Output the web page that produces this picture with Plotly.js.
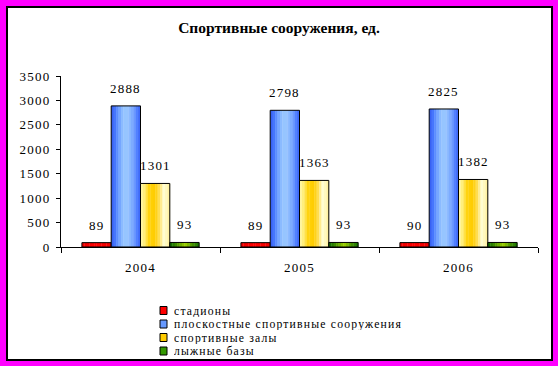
<!DOCTYPE html>
<html>
<head>
<meta charset="utf-8">
<script src="https://cdn.plot.ly/plotly-3.0.1.min.js"></script>
<style>
html,body{margin:0;padding:0;background:#FF00FF;}
#chart{width:558px;height:366px;}
.xtick text,.ytick text,.annotation-text{letter-spacing:1.2px;}
</style>
</head>
<body>
<div id="chart"></div>
<script>
// ---- data ----
var years = ["2004", "2005", "2006"];
var seriesNames = ["стадионы", "плоскостные спортивные сооружения", "спортивные залы", "лыжные базы"];
var stadiums = [89, 89, 90];
var flatFacilities = [2888, 2798, 2825];
var sportHalls = [1301, 1363, 1382];
var skiBases = [93, 93, 93];
var yTicks = [0, 500, 1000, 1500, 2000, 2500, 3000, 3500];
var titleText = "Спортивные сооружения, ед.";

var seriesValues = [stadiums, flatFacilities, sportHalls, skiBases];

// ---- styles ----
var gradients = [
  [[0,"#EE0000"],[0.5,"#FF0000"],[1,"#EE0000"]],
  [[0,"#3058F0"],[0.15,"#4A7CFF"],[0.35,"#88B8FF"],[0.5,"#9CCAFF"],[0.65,"#8AB8FF"],[0.78,"#6E9CFF"],[0.9,"#4A78FF"],[1,"#3560F5"]],
  [[0,"#FFF8B0"],[0.12,"#FFF080"],[0.3,"#FFD20A"],[0.5,"#FFCC00"],[0.65,"#FFE060"],[0.8,"#FFFFD8"],[0.92,"#FFF6B0"],[1,"#FFEE90"]],
  [[0,"#0A6A00"],[0.2,"#3A8A00"],[0.45,"#88C000"],[0.55,"#99CC00"],[0.75,"#4C9600"],[1,"#157400"]]
];
var legendColors = ["#FF0000", "#6699FF", "#FFCC00", "#339900"];

function hex(c){return [parseInt(c.substr(1,2),16),parseInt(c.substr(3,2),16),parseInt(c.substr(5,2),16)];}
function colorAt(stops,t){
  for(var i=0;i<stops.length-1;i++){
    if(t<=stops[i+1][0]){
      var a=hex(stops[i][1]),b=hex(stops[i+1][1]);
      var f=(t-stops[i][0])/(stops[i+1][0]-stops[i][0]);
      return "rgb("+[0,1,2].map(function(j){return Math.round(a[j]+(b[j]-a[j])*f);}).join(",")+")";
    }
  }
  return stops[stops.length-1][1];
}

// geometry (fractions of a category)
var nS = seriesValues.length;
var groupFrac = 0.737;
var bw = groupFrac / nS;
var start = -groupFrac / 2;
var strips = 12;

var traces = [];
for (var s = 0; s < nS; s++) {
  for (var k = 0; k < strips; k++) {
    traces.push({
      type: "bar", x: years, y: seriesValues[s],
      offset: start + s*bw + k*bw/strips,
      width: bw/strips + 0.002,
      marker: {color: colorAt(gradients[s], (k+0.5)/strips), line: {width: 0}},
      showlegend: false, hoverinfo: "skip"
    });
  }
  traces.push({
    type: "bar", x: years, y: seriesValues[s], name: seriesNames[s],
    offset: start + s*bw, width: bw,
    marker: {color: "rgba(0,0,0,0)", line: {color: "#000", width: 1}},
    showlegend: false, hoverinfo: "x+y+name"
  });
}

// pixel helpers
var W = 558, H = 366, L = 61, R = 20, T = 76, B = 119;
function px(x){return (x - L) / (W - L - R);}
function py(y){return (H - B - y) / (H - T - B);}

var annotations = [];
for (var s2 = 0; s2 < nS; s2++) {
  for (var i = 0; i < years.length; i++) {
    annotations.push({
      x: i + start + (s2 + 0.5)*bw, y: seriesValues[s2][i], xref: "x", yref: "y",
      text: String(seriesValues[s2][i]), showarrow: false,
      yanchor: "bottom", xanchor: "center", yshift: 8,
      font: {family: "Liberation Serif", size: 13, color: "#000"}
    });
  }
}

var shapes = [{
  type: "rect", xref: "paper", yref: "paper",
  x0: px(7), x1: px(552), y0: py(7), y1: py(360),
  fillcolor: "#FFFFFF", line: {color: "#000", width: 2}, layer: "below"
}];

var legY = [310.5, 324, 337.5, 351];
for (var j = 0; j < nS; j++) {
  shapes.push({
    type: "rect", xref: "paper", yref: "paper",
    x0: px(160), x1: px(167), y0: py(legY[j] - 4), y1: py(legY[j] + 4),
    fillcolor: legendColors[j], line: {color: "#000", width: 1}, layer: "above"
  });
  annotations.push({
    xref: "paper", yref: "paper", x: px(172), y: py(legY[j]),
    xanchor: "left", yanchor: "middle", showarrow: false,
    text: seriesNames[j], captureevents: false, height: 12,
    font: {family: "Liberation Serif", size: 11.7, color: "#000"}
  });
}

var layout = {
  width: W, height: H,
  margin: {l: L, r: R, t: T, b: B, pad: 0},
  paper_bgcolor: "#FF00FF", plot_bgcolor: "rgba(0,0,0,0)",
  barmode: "overlay",
  showlegend: false,
  title: {
    text: "<b>" + titleText + "</b>", x: 0.5, xref: "container",
    y: 1 - 28/H, yref: "container", yanchor: "middle", xanchor: "center",
    font: {family: "Liberation Serif", size: 15.5, color: "#000"}
  },
  xaxis: {
    type: "category", range: [-0.5, 2.5], tickson: "boundaries",
    ticks: "outside", ticklen: 5, tickcolor: "#000", tickwidth: 1,
    showline: true, linecolor: "#000", linewidth: 1, showgrid: false,
    ticklabelstandoff: 8,
    tickfont: {family: "Liberation Serif", size: 13, color: "#000"}
  },
  yaxis: {
    range: [0, 3500], tickvals: yTicks, ticktext: yTicks.map(String),
    ticks: "outside", ticklen: 4, tickcolor: "#000", tickwidth: 1,
    showline: true, linecolor: "#000", linewidth: 1, showgrid: false, zeroline: false,
    ticklabelstandoff: 3,
    tickfont: {family: "Liberation Serif", size: 13, color: "#000"}
  },
  annotations: annotations,
  shapes: shapes
};

Plotly.newPlot("chart", traces, layout, {displayModeBar: false, staticPlot: true});
</script>
</body>
</html>
